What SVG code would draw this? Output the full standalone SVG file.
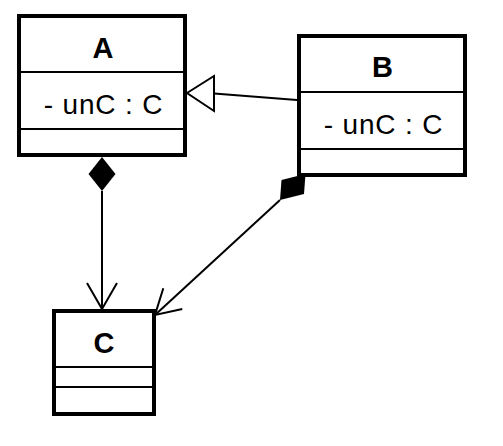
<svg xmlns="http://www.w3.org/2000/svg" width="503" height="446" viewBox="0 0 503 446">
<style>
.box{fill:#fff;stroke:#000;stroke-width:4}
.sep{stroke:#000;stroke-width:2}
.edge{fill:none;stroke:#000;stroke-width:2}
.title{font-family:"Liberation Sans",Arial,sans-serif;font-weight:bold;font-size:29px;text-anchor:middle;fill:#000}
.attr{font-family:"Liberation Sans",Arial,sans-serif;font-size:28px;fill:#000}
</style>
<rect width="503" height="446" fill="#fff"/>
<g id="connectors">
  <g id="gen-B-A">
    <line class="edge" x1="297" y1="100" x2="214" y2="93.5"/>
    <polygon points="187,93 214,76 214,111" fill="#fff" stroke="#000" stroke-width="2"/>
  </g>
  <g id="comp-A-C">
    <polygon points="102,157 115.5,174 102,191 88.5,174" fill="#000"/>
    <line class="edge" x1="102" y1="191" x2="102" y2="309"/>
    <polyline class="edge" points="87,283 102,309 117,283"/>
  </g>
  <g id="comp-B-C">
    <polygon points="305.5,174 281.5,180 280,200 304,194" fill="#000"/>
    <line class="edge" x1="280" y1="200" x2="155" y2="315"/>
    <polyline class="edge" points="163.3,288.3 155,315 182.3,309"/>
  </g>
</g>
<g id="A">
  <rect class="box" x="19" y="16" width="166" height="139"/>
  <line class="sep" x1="21" y1="72" x2="183" y2="72"/>
  <line class="sep" x1="21" y1="129" x2="183" y2="129"/>
  <text class="title" x="103" y="58">A</text>
  <text class="attr" x="43.8" y="113.5" textLength="118.6" lengthAdjust="spacing">- unC : C</text>
</g>
<g id="B">
  <rect class="box" x="299" y="36" width="166" height="139"/>
  <line class="sep" x1="301" y1="92" x2="463" y2="92"/>
  <line class="sep" x1="301" y1="149" x2="463" y2="149"/>
  <text class="title" x="382.5" y="77">B</text>
  <text class="attr" x="323.8" y="133.5" textLength="118.6" lengthAdjust="spacing">- unC : C</text>
</g>
<g id="C">
  <rect class="box" x="54" y="311" width="100" height="103"/>
  <line class="sep" x1="56" y1="367" x2="152" y2="367"/>
  <line class="sep" x1="56" y1="387" x2="152" y2="387"/>
  <text class="title" x="104" y="353">C</text>
</g>
</svg>
